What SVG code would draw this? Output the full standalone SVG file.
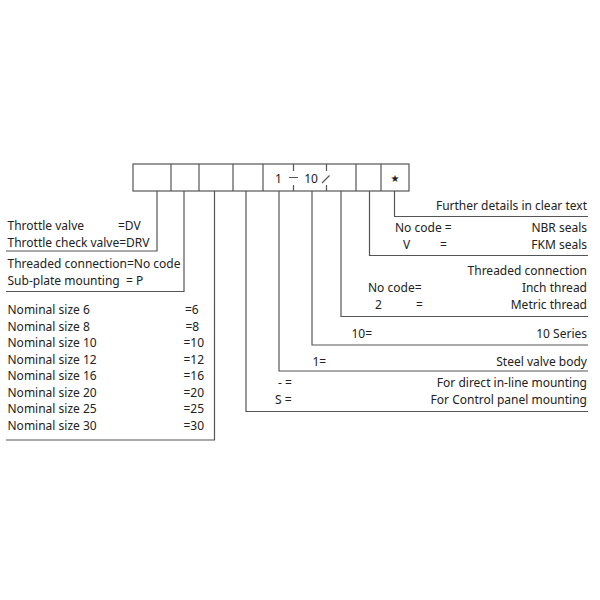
<svg xmlns="http://www.w3.org/2000/svg" width="600" height="600" viewBox="0 0 600 600">
<style>
.t{font-family:"Noto Sans","Open Sans",sans-serif;font-size:12px;fill:#222}
.r{text-anchor:end}
.ln{fill:none;stroke:#555;stroke-width:1.2}
</style>
<rect width="600" height="600" fill="#fff"/>
<g id="code-boxes">
<rect class="ln" x="133" y="164" width="276" height="27"/>
<path class="ln" d="M171 164V191M199 164V191M233 164V191M263 164V191M356 164V191M381 164V191"/>
<path class="ln" d="M293.5 164V171M293.5 185V191M289 177.5H298M326.5 164V171M326.5 185V191M322 183L329.5 175.5"/>
<text class="t" x="278.5" y="182.5" text-anchor="middle">1</text>
<text class="t" x="311" y="182.5" text-anchor="middle">10</text>
<text x="395" y="182" text-anchor="middle" style="font-family:'DejaVu Sans',sans-serif;font-size:10px;fill:#222">★</text>
</g>
<g id="connectors">
<path class="ln" d="M157 191V251H6"/>
<path class="ln" d="M184 191V291.5H6"/>
<path class="ln" d="M214.5 191V440H6"/>
<path class="ln" d="M246 191V411.5H588"/>
<path class="ln" d="M279 191V371H588"/>
<path class="ln" d="M312 191V345H588"/>
<path class="ln" d="M341 191V316.5H588"/>
<path class="ln" d="M369.5 191V255.5H588"/>
<path class="ln" d="M394.5 191V216.5H588"/>
</g>
<g id="type">
<text class="t" x="7.5" y="229.5">Throttle valve</text>
<text class="t" x="118" y="229.5">=DV</text>
<text class="t" x="7.5" y="246.5">Throttle check valve=DRV</text>
</g>
<g id="connection">
<text class="t" x="7.5" y="268">Threaded connection=No code</text>
<text class="t" x="7.5" y="285">Sub-plate mounting</text>
<text class="t" x="126" y="285">= P</text>
</g>
<g id="nominal-size">
<text class="t" x="7.5" y="314">Nominal size 6</text><text class="t" x="185" y="314">=6</text>
<text class="t" x="7.5" y="330.5">Nominal size 8</text><text class="t" x="185.5" y="330.5">=8</text>
<text class="t" x="7.5" y="347">Nominal size 10</text><text class="t" x="183.5" y="347">=10</text>
<text class="t" x="7.5" y="363.5">Nominal size 12</text><text class="t" x="183.5" y="363.5">=12</text>
<text class="t" x="7.5" y="380">Nominal size 16</text><text class="t" x="183.5" y="380">=16</text>
<text class="t" x="7.5" y="396.5">Nominal size 20</text><text class="t" x="183.5" y="396.5">=20</text>
<text class="t" x="7.5" y="413">Nominal size 25</text><text class="t" x="183.5" y="413">=25</text>
<text class="t" x="7.5" y="429.5">Nominal size 30</text><text class="t" x="183.5" y="429.5">=30</text>
</g>
<g id="mounting">
<text class="t" x="278" y="387">- =</text>
<text class="t r" x="587" y="387">For direct in-line mounting</text>
<text class="t" x="275" y="404">S =</text>
<text class="t r" x="587" y="404">For Control panel mounting</text>
</g>
<g id="body">
<text class="t" x="312.5" y="366">1=</text>
<text class="t r" x="587" y="366">Steel valve body</text>
</g>
<g id="series">
<text class="t" x="351.5" y="338">10=</text>
<text class="t r" x="587" y="338">10 Series</text>
</g>
<g id="thread">
<text class="t r" x="587" y="274.5">Threaded connection</text>
<text class="t" x="368" y="292">No code=</text>
<text class="t r" x="587" y="292">Inch thread</text>
<text class="t" x="375" y="309">2</text>
<text class="t" x="416" y="309">=</text>
<text class="t r" x="587" y="309">Metric thread</text>
</g>
<g id="seals">
<text class="t" x="395" y="232">No code =</text>
<text class="t r" x="587" y="232">NBR seals</text>
<text class="t" x="403" y="248.5">V</text>
<text class="t" x="440" y="248.5">=</text>
<text class="t r" x="587" y="248.5">FKM seals</text>
</g>
<g id="details">
<text class="t r" x="587" y="209.5">Further details in clear text</text>
</g>
</svg>
